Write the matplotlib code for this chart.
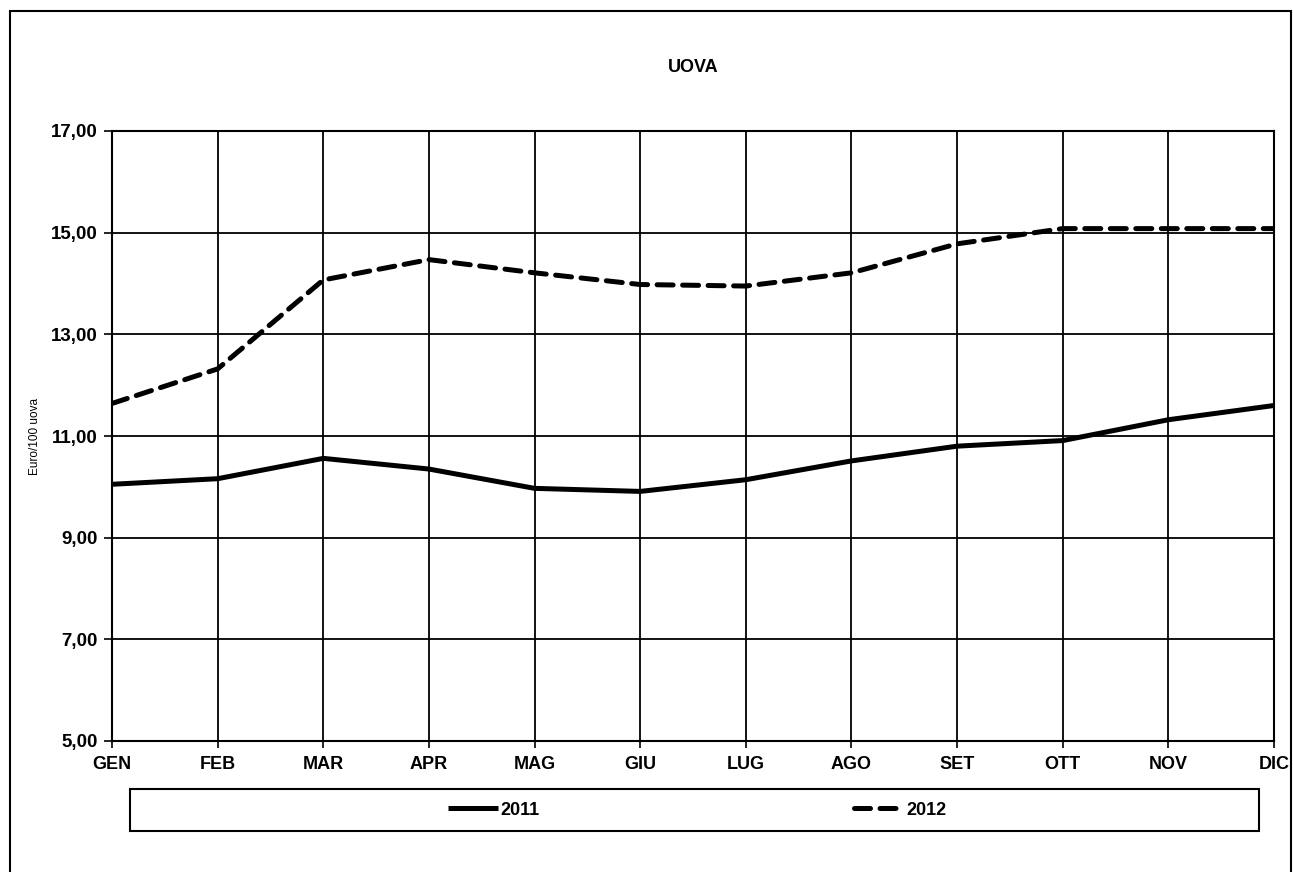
import matplotlib.pyplot as plt
from matplotlib.patches import Rectangle

# data
mesi = ["GEN", "FEB", "MAR", "APR", "MAG", "GIU", "LUG", "AGO", "SET", "OTT", "NOV", "DIC"]
uova_2011 = [10.05, 10.16, 10.56, 10.35, 9.97, 9.91, 10.14, 10.51, 10.80, 10.91, 11.32, 11.60]
uova_2012 = [11.64, 12.32, 14.07, 14.47, 14.21, 13.98, 13.95, 14.21, 14.78, 15.08, 15.08, 15.08]
y_ticks = [5, 7, 9, 11, 13, 15, 17]

plt.rcParams["font.family"] = ["Liberation Sans", "DejaVu Sans"]

W, H = 1293, 872
fig = plt.figure(figsize=(W / 100, H / 100), dpi=100)

# outer chart frame
fig.patches.append(Rectangle((10 / W, -0.05), (1291 - 10) / W, 1.05 - 11 / H,
                             transform=fig.transFigure, fill=False,
                             edgecolor="black", linewidth=1.5))

left, right, top, bottom = 112, 1274, 131, 741
ax = fig.add_axes([left / W, 1 - bottom / H, (right - left) / W, (bottom - top) / H])

x = list(range(len(mesi)))
ax.plot(x, uova_2011, color="black", linewidth=3.6, solid_capstyle="butt", label="2011", zorder=3)
ax.plot(x, uova_2012, color="black", linewidth=3.6, dashes=(3.2, 1.9),
        dash_capstyle="round", label="2012", zorder=3)

ax.set_xlim(0, len(mesi) - 1)
ax.set_ylim(5, 17)
ax.set_xticks(x)
ax.set_xticklabels(mesi, fontsize=13, fontweight="bold")
ax.set_yticks(y_ticks)
ax.set_yticklabels([f"{v:.2f}".replace(".", ",") for v in y_ticks], fontsize=13.5, fontweight="bold")
ax.tick_params(axis="y", direction="out", length=6, width=1.2, pad=4)
ax.tick_params(axis="x", direction="out", length=5, width=1.2, pad=6)
ax.grid(True, color="black", linewidth=1.3)
for s in ax.spines.values():
    s.set_linewidth(1.5)
ax.set_axisbelow(True)

fig.text(35 / W, 1 - 436 / H, "Euro/100 uova", rotation=90, ha="center", va="center", fontsize=8.5)
fig.text(693 / W, 1 - 68 / H, "UOVA", ha="center", va="center", fontsize=13, fontweight="bold")

# legend box
fig.patches.append(Rectangle((130 / W, 1 - 831 / H), (1259 - 130) / W, 42 / H,
                             transform=fig.transFigure, fill=False,
                             edgecolor="black", linewidth=1.5))
fig.legend(loc="center", bbox_to_anchor=(697 / W, 1 - 810 / H), ncol=2, frameon=False,
           prop={"size": 13, "weight": "bold"}, handlelength=2.8, handletextpad=0.1,
           columnspacing=17.4)

fig.savefig("out.png", dpi=100)
